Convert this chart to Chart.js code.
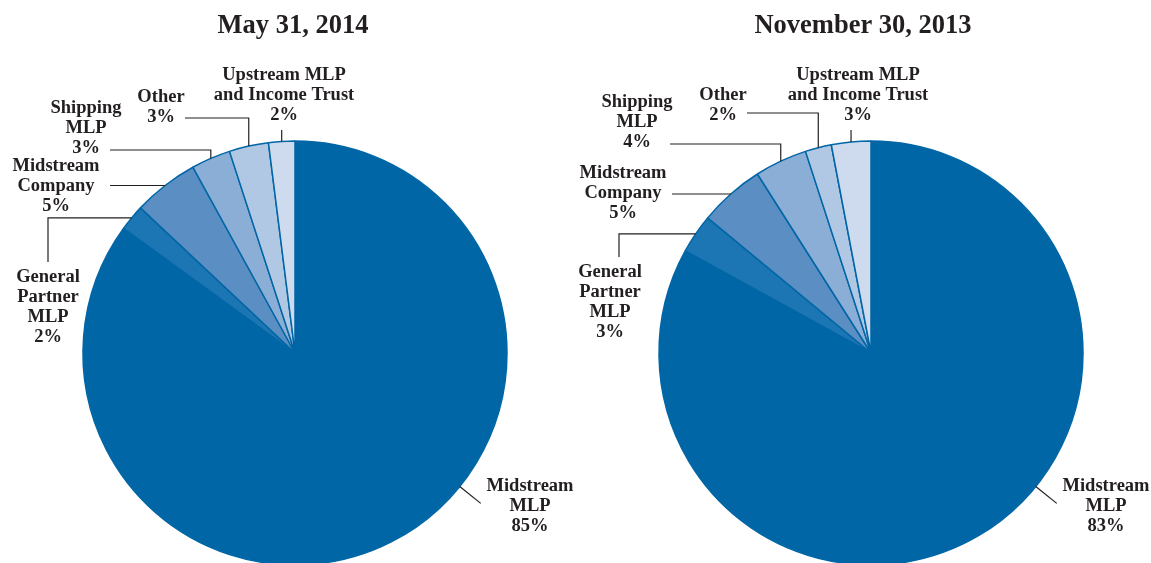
<!DOCTYPE html>
<html>
<head>
<meta charset="utf-8">
<script src="https://cdn.jsdelivr.net/npm/chart.js@4/dist/chart.umd.min.js"></script>
<style>
  html, body { margin: 0; padding: 0; background: #fff; }
  body { width: 1151px; height: 563px; position: relative; overflow: hidden; }
  canvas { position: absolute; top: 0; }
  #pieMay { left: 0; }
  #pieNov { left: 576px; }
</style>
</head>
<body>
<canvas id="pieMay" width="575" height="600"></canvas>
<canvas id="pieNov" width="575" height="600"></canvas>
<script>
// asset categories, clockwise from 12 o'clock
const categories = [
    ['Midstream', 'MLP'],
    ['General', 'Partner', 'MLP'],
    ['Midstream', 'Company'],
    ['Shipping', 'MLP'],
    ['Other'],
    ['Upstream MLP', 'and Income Trust']
];
const may2014 = [85, 2, 5, 3, 3, 2];
const nov2013 = [83, 3, 5, 4, 2, 3];
const sliceColors = ['#0066a6', '#1b76b3', '#5b8fc3', '#8baed6', '#b1c8e4', '#cedbee'];

const INK = '#231f20';
const LABEL_FONT = 'bold 18.5px "Liberation Serif", "Times New Roman", serif';
const TITLE_FONT = 'bold 26.5px "Liberation Serif", "Times New Roman", serif';

// label placement (canvas px); leader starts on the slice edge
const mayLabels = [
    { x: 530, y: 486, lead: { type: 'radial', angle: 129, len: 27 } },
    { x: 48, y: 277, lead: { type: 'hv', x: 48, y: 262 } },
    { x: 56, y: 166, lead: { type: 'h', x: 110 } },
    { x: 86, y: 108, lead: { type: 'vh', y: 150, x: 110 } },
    { x: 161, y: 97, lead: { type: 'vh', y: 118, x: 185 } },
    { x: 284, y: 75, lead: { type: 'v', y: 130 } }
];
const novLabels = [
    { x: 530, y: 486, lead: { type: 'radial', angle: 129, len: 27 } },
    { x: 34, y: 272, lead: { type: 'hv', x: 43, y: 257 } },
    { x: 47, y: 173, lead: { type: 'h', x: 96 } },
    { x: 61, y: 102, lead: { type: 'vh', y: 144, x: 94 } },
    { x: 147, y: 95, lead: { type: 'vh', y: 113, x: 171 } },
    { x: 282, y: 75, lead: { type: 'v', y: 130 } }
];

const pieLabels = {
    id: 'pieLabels',
    afterDraw(chart, args, opts) {
        const ctx = chart.ctx;
        const arcs = chart.getDatasetMeta(0).data;
        const values = chart.data.datasets[0].data;
        ctx.save();
        ctx.fillStyle = INK;
        ctx.textAlign = 'center';
        ctx.textBaseline = 'middle';
        ctx.font = TITLE_FONT;
        ctx.fillText(opts.title, opts.titleX, 26);

        ctx.strokeStyle = INK;
        ctx.lineWidth = 1.2;
        ctx.font = LABEL_FONT;
        opts.layout.forEach((lb, i) => {
            const a = arcs[i];
            const lead = lb.lead;
            const ang = lead.angle !== undefined
                ? (lead.angle - 90) * Math.PI / 180
                : (a.startAngle + a.endAngle) / 2;
            const px = a.x + Math.cos(ang) * a.outerRadius;
            const py = a.y + Math.sin(ang) * a.outerRadius;
            ctx.beginPath();
            ctx.moveTo(px, py);
            if (lead.type === 'v') ctx.lineTo(px, lead.y);
            else if (lead.type === 'h') ctx.lineTo(lead.x, py);
            else if (lead.type === 'vh') { ctx.lineTo(px, lead.y); ctx.lineTo(lead.x, lead.y); }
            else if (lead.type === 'hv') { ctx.lineTo(lead.x, py); ctx.lineTo(lead.x, lead.y); }
            else if (lead.type === 'radial') ctx.lineTo(px + Math.cos(ang) * lead.len, py + Math.sin(ang) * lead.len);
            ctx.stroke();

            const lines = categories[i].concat([values[i] + '%']);
            lines.forEach((t, k) => ctx.fillText(t, lb.x, lb.y + k * 20));
        });
        ctx.restore();
    }
};

function makePie(id, values, title, titleX, layout) {
    new Chart(document.getElementById(id), {
        type: 'pie',
        data: {
            labels: categories.map(c => c.join(' ')),
            datasets: [{
                data: values,
                backgroundColor: sliceColors,
                borderColor: '#0066a6',
                borderWidth: 1.5
            }]
        },
        options: {
            responsive: false,
            animation: false,
            layout: { padding: { left: 82.25, right: 67.25, top: 140.25, bottom: 34.25 } },
            plugins: {
                legend: { display: false },
                tooltip: { enabled: false },
                pieLabels: { title: title, titleX: titleX, layout: layout }
            }
        },
        plugins: [pieLabels]
    });
}

makePie('pieMay', may2014, 'May 31, 2014', 293, mayLabels);
makePie('pieNov', nov2013, 'November 30, 2013', 287, novLabels);
</script>
</body>
</html>
